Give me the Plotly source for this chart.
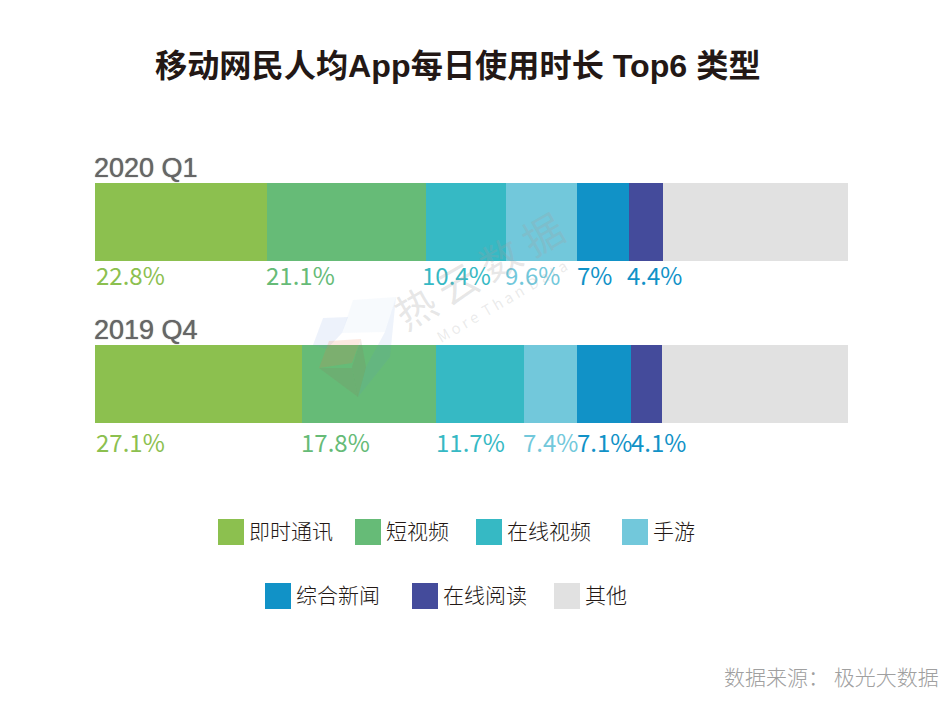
import plotly.graph_objects as go

periods = ["2019 Q4", "2020 Q1"]
categories = ["即时通讯", "短视频", "在线视频", "手游", "综合新闻", "在线阅读", "其他"]
colors = ["#8CC04F", "#66BB77", "#36B9C4", "#72C8DB", "#1192C7", "#444B9B", "#E1E1E1"]
# segment widths; printed labels differ slightly
values_2019 = [27.5, 17.75, 11.75, 7.05, 7.15, 4.1, 24.7]
values_2020 = [22.85, 21.1, 10.65, 9.45, 6.9, 4.5, 24.55]
labels_2019 = ["27.1%", "17.8%", "11.7%", "7.4%", "7.1%", "4.1%"]
labels_2020 = ["22.8%", "21.1%", "10.4%", "9.6%", "7%", "4.4%"]
label_colors = ["#8CC04F", "#66BB77", "#36B9C4", "#72C8DB", "#1192C7", "#1192C7"]
label_lefts_2019 = [94, 299, 434, 521, 575, 629]
label_lefts_2020 = [94, 264, 420, 503, 575, 625]

FONT = "Noto Sans CJK SC"
LATIN_FONT = "Liberation Sans, Noto Sans CJK SC"
# the page body has an 8px margin, so the plot area is 934x698 starting at (8, 8)
WIDTH, HEIGHT = 934, 698


def fx(px):
    return (px - 8) / WIDTH


def fy(px):
    return 1 - (px - 8) / HEIGHT


def text_note(text, x, y, size, color, xanchor="left", weight=None, family=FONT, shadow=None):
    font = dict(size=size, color=color, family=family)
    if weight:
        font["weight"] = weight
    if shadow:
        font["shadow"] = shadow
    # -2: the CJK font sits about 2px low in its line box
    return dict(text=text, x=fx(x), y=fy(y - 2), xref="paper", yref="paper", xanchor=xanchor,
                yanchor="middle", showarrow=False, font=font)


fig = go.Figure()
for i, cat in enumerate(categories):
    fig.add_trace(go.Bar(
        x=[values_2019[i], values_2020[i]],
        y=periods,
        orientation="h",
        name=cat,
        marker=dict(color=colors[i], line=dict(width=0)),
        hoverinfo="x+name",
    ))

annotations = [
    text_note("<b>移动网民人均App每日使用时长 Top6 类型</b>", 153, 68, 32.2, "#231815", family=LATIN_FONT),
    text_note("2020 Q1", 92, 170, 27, "#666666", family="Liberation Sans", shadow="0 0 1px #666666"),
    text_note("2019 Q4", 92, 332, 27, "#666666", family="Liberation Sans", shadow="0 0 1px #666666"),
    text_note("数据来源： 极光大数据", 941, 678, 21, "#A0A0A0", xanchor="right", weight=300),
]

for labs, lefts, ypx in [(labels_2020, label_lefts_2020, 276), (labels_2019, label_lefts_2019, 443)]:
    for i, lab in enumerate(labs):
        annotations.append(text_note(lab, lefts[i], ypx, 24, label_colors[i]))

# legend is drawn by hand to keep the two centred rows of the original
legend_rows = [
    (categories[:4], colors[:4], [218, 355, 476, 622], 532),
    (categories[4:], colors[4:], [265, 412, 554], 596),
]
shapes = []
for names, cols, lefts, ypx in legend_rows:
    for name, col, left in zip(names, cols, lefts):
        shapes.append(dict(type="rect", xref="paper", yref="paper", x0=fx(left), x1=fx(left + 26),
                           y0=fy(ypx + 13), y1=fy(ypx - 13), fillcolor=col, line=dict(width=0)))
        annotations.append(text_note(name, left + 29, ypx, 21, "#231815", weight=300))

# watermark text
annotations.append(dict(text="热 云 数 据", x=fx(478), y=fy(270), xref="paper", yref="paper", showarrow=False,
                        textangle=-30, font=dict(size=40, color="rgba(160,160,160,0.26)", family=FONT)))
annotations.append(dict(text="M o r e  T h a n  D a t a", x=fx(502), y=fy(301), xref="paper", yref="paper",
                        showarrow=False, textangle=-30,
                        font=dict(size=15, color="rgba(160,160,160,0.22)", family=FONT)))


def poly(points, color):
    path = "M " + " L ".join(f"{fx(x):.4f},{fy(y):.4f}" for x, y in points) + " Z"
    return dict(type="path", xref="paper", yref="paper", path=path, fillcolor=color, line=dict(width=0), layer="above")


# watermark logo
shapes += [
    poly([(323, 318), (348, 317), (342, 333), (327, 349), (313, 345)], "rgba(90,140,215,0.11)"),
    poly([(353, 300), (396, 297), (385, 332), (342, 333)], "rgba(150,190,235,0.08)"),
    poly([(396, 297), (385, 332), (366, 367), (358, 397), (390, 357)], "rgba(90,140,215,0.10)"),
    poly([(329, 341), (361, 339), (352, 363), (319, 368)], "rgba(240,120,70,0.17)"),
    poly([(319, 368), (352, 368), (358, 397)], "rgba(150,110,90,0.15)"),
    poly([(361, 339), (366, 367), (358, 397), (352, 367)], "rgba(150,110,90,0.15)"),
]

fig.update_layout(
    barmode="stack",
    bargap=84 / 162,
    width=WIDTH,
    height=HEIGHT,
    margin=dict(l=0, r=0, t=0, b=0),
    paper_bgcolor="white",
    plot_bgcolor="white",
    showlegend=False,
    xaxis=dict(domain=[fx(95), fx(848)], range=[0, 100], visible=False),
    yaxis=dict(domain=[fy(465), fy(141)], visible=False, categoryorder="array", categoryarray=periods),
    annotations=annotations,
    shapes=shapes,
)

fig.write_html("out.html")
